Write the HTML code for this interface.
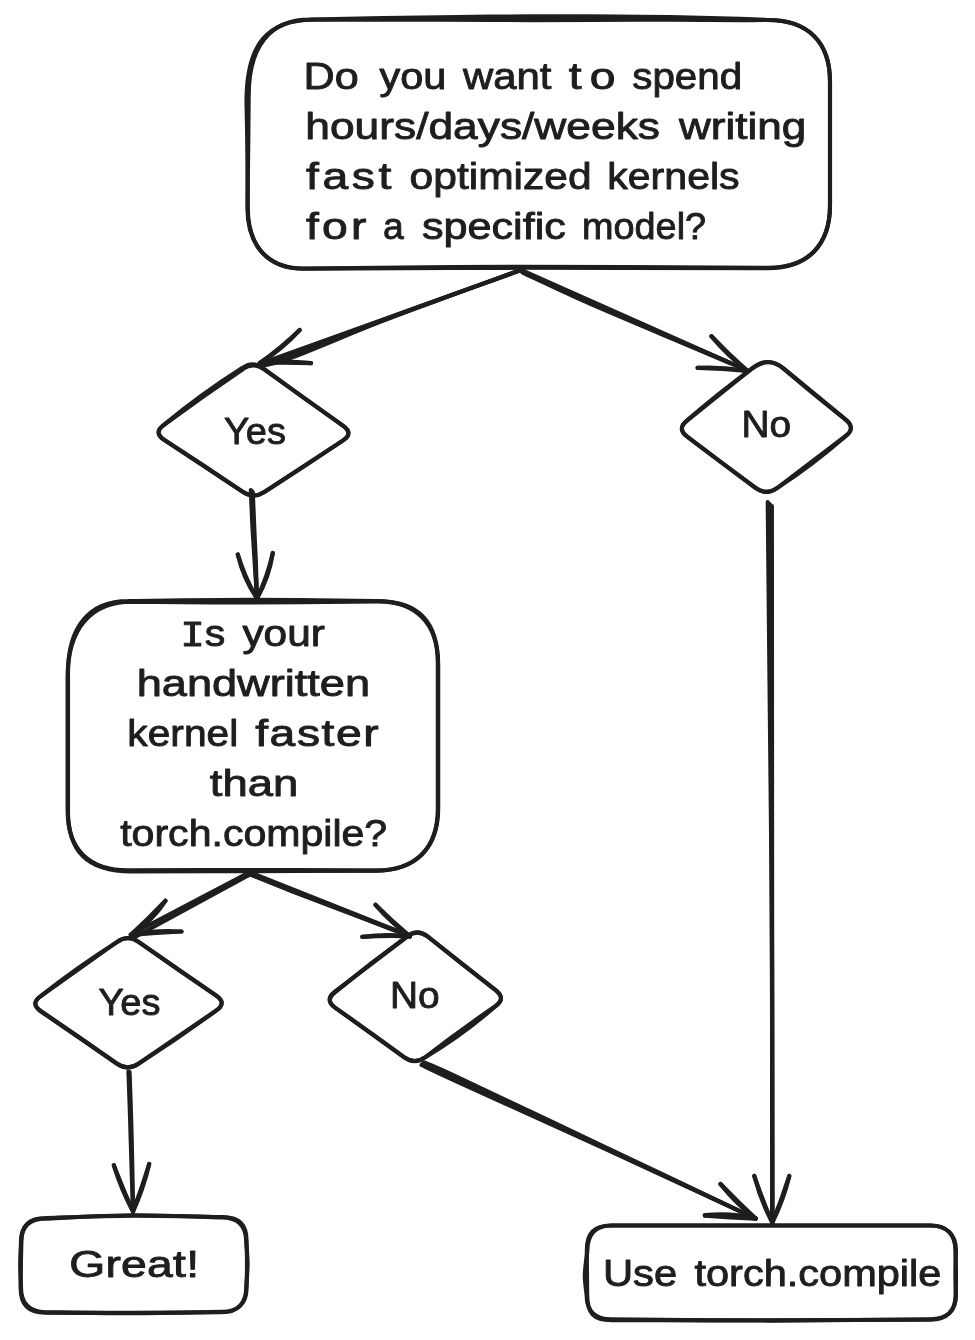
<!DOCTYPE html>
<html lang="en">
<head>
<meta charset="utf-8">
<title>Should you write custom kernels? flowchart</title>
<style>
html,body{margin:0;padding:0;background:#fff;}
body{width:975px;height:1340px;overflow:hidden;}
svg{display:block;}
svg path{fill:none;stroke:#1e1e1e;stroke-linecap:round;stroke-linejoin:round;}
svg text{font-family:"Liberation Sans",sans-serif;font-size:37px;fill:#1e1e1e;stroke:#1e1e1e;stroke-width:.9px;stroke-linejoin:round;white-space:pre;}
svg .m{font-family:"Liberation Mono",monospace;}
#labels{opacity:.999;}
</style>
</head>
<body>
<svg role="img" aria-label="Flowchart: should you write custom kernels or use torch.compile" width="975" height="1340" viewBox="0 0 975 1340">
<rect width="975" height="1340" fill="#fff"/>
<g id="shapes">
<g><!-- question box 1 -->
<path d="M309.6 19.5 C331.3 19.1 403.3 17.7 440 17.2 C476.7 16.7 496.7 16.4 530 16.3 C563.3 16.2 605 16.3 640 16.7 C675 17.1 718.7 18.1 740 18.7 C761.3 19.2 763.3 19.8 768 20 C807.7 20 830 41.8 830 81.5 L830 205.6 C830 245.3 807.7 267.8 768 267.8 C726.7 267.6 597.4 266.6 520 266.7 C442.6 266.8 339.7 268.2 303.6 268.5 C267.8 268.5 247.4 246 247.4 207.6 C247.6 196.3 248.1 158.7 248.3 140 C248.5 121.3 248.6 102.9 248.7 95.5 C248.7 46.9 269.9 19.5 309.6 19.5" stroke-width="4.1"/>
<path d="M313.6 19.7 C334.7 19.7 403.9 19.7 440 19.8 C476.1 19.9 496.7 20.1 530 20.1 C563.3 20.1 605 19.7 640 19.7 C675 19.7 718.7 20.1 740 20.1 C761.3 20.2 763.3 20 768 20 C807.7 20 830 41.8 830 81.5 L830 205.6 C830 245.3 807.7 268.2 768 268.2 C726.7 268.1 597.4 267.7 520 267.8 C442.6 267.9 339.7 268.6 303.6 268.8 C267.8 268.8 247.8 246 247.8 207.6 C247.7 196.3 247.4 157.7 247.2 140 C247 122.3 246.6 107.9 246.5 101.5 C246.5 44.1 267.4 19.7 313.6 19.7" stroke-width="4.1"/>
</g>
<g><!-- arrow q1 to yes -->
<path d="M521 270 L261 363.5" stroke-width="4.1"/>
<path d="M521 270 C507.5 274.9 463.5 290.8 440 299.4 C416.5 308 404.5 312.3 380 321.9 C355.5 331.5 312.3 349.9 293 357.2 C273.7 364.4 268.8 364 264 365.4" stroke-width="4.1"/>
<path d="M521 270 C513.8 272.6 492.2 280.4 477.8 285.6 C463.5 290.8 449.1 296 434.7 301.2 C420.3 306.4 406 311.7 391.6 317 C377.3 322.4 363 327.8 348.7 333.2 C334.4 338.7 320.3 344.4 305.9 349.6 C291.5 354.8 269.7 362 262.5 364.4" stroke-width="4.1"/>
<path d="M299.7 330 Q282.1 349.4 259.8 363" stroke-width="4.2"/>
<path d="M299.7 330 Q281 348 259.8 363" stroke-width="4.2"/>
<path d="M311 363.2 Q285.4 362 259.8 363" stroke-width="4.2"/>
<path d="M311 363.2 Q285.4 360.2 259.8 363" stroke-width="4.2"/>
</g>
<g><!-- arrow q1 to no -->
<path d="M521.5 270 L747.6 370.6" stroke-width="4.1"/>
<path d="M522.5 272.6 C533.1 277.5 563.1 291.8 586 302 C608.9 312.2 636 323.4 660 333.6 C684 343.8 718.3 358.1 730 363" stroke-width="4.1"/>
<path d="M522 271.3 C528 274 546 282.2 558 287.6 C570 293 581.9 298.5 594 303.8 C606 309.2 618.1 314.4 630.1 319.6 C642.2 324.9 654.3 330.2 666.3 335.4 C678.4 340.7 690.5 345.9 702.6 351.1 C714.6 356.3 732.8 364.2 738.8 366.8" stroke-width="4.1"/>
<path d="M711.4 336.2 Q728.7 354.4 747.6 371" stroke-width="4.2"/>
<path d="M711.4 336.2 Q727.5 355.7 747.6 371" stroke-width="4.2"/>
<path d="M697.6 367.8 Q722.8 366.5 747.6 371" stroke-width="4.2"/>
<path d="M697.6 367.8 Q722.7 368.3 747.6 371" stroke-width="4.2"/>
</g>
<g><!-- yes diamond 1 -->
<path d="M264 369.3 L343.3 425.8 Q353.9 433.3 343 440.4 L264.3 492 Q253.4 499.1 242.6 491.9 L164 439.9 Q153.1 432.7 163.7 425.2 Q202.6 396.2 242.8 369.2 Q253.4 361.7 264 369.3" stroke-width="4.1"/>
<path d="M263.1 368.1 Q302.8 397.5 343.2 425.9 Q353.8 433.5 342.9 440.6 Q304.1 466.9 264.5 491.9 Q253.6 499 242.8 491.8 Q203.8 465.2 164.2 439.7 Q153.4 432.5 163.9 424.9 Q201.2 394.1 242.1 368.1 Q252.6 360.5 263.1 368.1" stroke-width="4.1"/>
</g>
<g><!-- no diamond 1 -->
<path d="M783.5 368.4 L846.1 419.8 Q856.1 428.1 845.7 436 L777.7 487.7 Q766.5 496.2 755.3 487.8 L687 436.7 Q676.6 428.9 686.7 420.8 L752.4 368.2 Q768 355.7 783.5 368.4" stroke-width="4.1"/>
<path d="M783.5 368.6 Q814.3 394.8 845.9 420 Q855.9 428.3 845.5 436.2 Q813.5 464.2 777.8 487.6 Q766.6 496 755.4 487.6 Q720.9 462.5 687.2 436.5 Q676.8 428.7 686.9 420.6 Q718.5 393.1 752.4 368.4 Q768.1 355.9 783.5 368.6" stroke-width="4.1"/>
</g>
<g><!-- arrow yes to q2 -->
<path d="M250.8 490 C251.1 496.7 251.9 517.5 252.6 530 C253.3 542.5 254.1 553.7 254.8 565 C255.5 576.3 256.6 592.5 257 598" stroke-width="4.1"/>
<path d="M252.8 492 C253.1 498.3 253.9 517.8 254.4 530 C254.9 542.2 255.6 553.7 256 565 C256.4 576.3 256.8 592.5 257 598" stroke-width="4.1"/>
<path d="M251.8 491 C251.9 494 252.3 502.9 252.6 508.8 C252.8 514.8 253.1 520.7 253.4 526.7 C253.6 532.6 254 538.6 254.3 544.5 C254.6 550.5 254.9 556.4 255.3 562.3 C255.6 568.3 255.8 574.2 256.1 580.2 C256.4 586.1 256.9 595 257 598" stroke-width="4.1"/>
<path d="M237.8 554.5 Q244.9 577.6 257 598.5" stroke-width="4.2"/>
<path d="M237.8 554.5 Q243.3 578.3 257 598.5" stroke-width="4.2"/>
<path d="M272.8 553 Q269.2 577.2 257 598.5" stroke-width="4.2"/>
<path d="M272.8 553 Q267.5 576.6 257 598.5" stroke-width="4.2"/>
</g>
<g><!-- arrow no to answer -->
<path d="M767.7 502 C768 532.2 768.9 625.2 769.5 683 C770.1 740.8 770.8 796.2 771.2 849 C771.6 901.8 771.8 937.8 772 1000 C772.2 1062.2 772.2 1185 772.3 1222" stroke-width="4.1"/>
<path d="M771.9 506 C771.9 535.5 772 625.8 772 683 C772 740.2 772.1 796.2 772.1 849 C772.1 901.8 772.2 937.8 772.3 1000 C772.3 1062.2 772.4 1185 772.4 1222" stroke-width="4.1"/>
<path d="M769.8 504 C769.9 523.9 770.2 583.8 770.4 623.7 C770.6 663.6 770.9 703.4 771.1 743.3 C771.3 783.2 771.5 823.1 771.7 863 C771.9 902.9 772 942.8 772.1 982.7 C772.2 1022.6 772.2 1062.4 772.2 1102.3 C772.3 1142.2 772.3 1202.1 772.3 1222" stroke-width="4.1"/>
<path d="M754.3 1176 Q762.3 1199.6 772.3 1222.5" stroke-width="4.2"/>
<path d="M754.3 1176 Q760.6 1200.3 772.3 1222.5" stroke-width="4.2"/>
<path d="M789.3 1176 Q783.5 1200.2 772.3 1222.5" stroke-width="4.2"/>
<path d="M789.3 1176 Q781.8 1199.6 772.3 1222.5" stroke-width="4.2"/>
</g>
<g><!-- question box 2 -->
<path d="M128 601 C148.3 600.8 208.7 599.8 250 599.8 C291.3 599.8 354.8 600.8 375.8 601 C415.5 601 437.8 622.9 437.8 662.6 L437.8 808.8 C437.8 848.5 415.5 870.6 375.8 870.6 C354.8 870.5 291.3 870 250 870 C208.7 870 148.3 870.3 128 870.4 C89.6 870.4 68 849.9 68 812.8 L68 672.6 C68 626.5 89.6 601 128 601" stroke-width="4.1"/>
<path d="M131.6 601.8 C151.3 601.9 208.9 602.5 250 602.4 C291.1 602.3 356.8 601.6 378.2 601.4 C419 601.4 438.2 622.1 438.2 665.6 L438.2 808.2 C438.2 847.9 415.9 870.6 376.2 870.6 C355.2 870.7 290.8 871.1 250 871.2 C209.2 871.3 151.3 871.4 131.6 871.4 C86.8 871.4 67.6 851.6 67.6 808.2 L67.6 677.6 C67.6 629 90.6 601.8 131.6 601.8" stroke-width="4.1"/>
</g>
<g><!-- arrow q2 to yes -->
<path d="M249 872.5 L131.5 934.3" stroke-width="4.1"/>
<path d="M250 874.5 L135 937" stroke-width="4.1"/>
<path d="M165.5 900.8 Q151.9 921.7 130.8 934.8" stroke-width="4.2"/>
<path d="M165.5 900.8 Q148.8 918.5 130.8 934.8" stroke-width="4.2"/>
<path d="M181.5 931.5 Q156.1 932.8 130.8 934.8" stroke-width="4.2"/>
<path d="M181.5 931.5 Q155.9 929.6 130.8 934.8" stroke-width="4.2"/>
</g>
<g><!-- arrow q2 to no -->
<path d="M249 872 L410 936" stroke-width="4.1"/>
<path d="M250 874.5 C256.7 877.2 275 884.7 290 890.5 C305 896.3 322.5 902.8 340 909.5 C357.5 916.2 385.8 927 395 930.5" stroke-width="4.1"/>
<path d="M249.5 873.2 C253.7 874.9 266.5 880 274.9 883.4 C283.4 886.8 291.9 890.1 300.4 893.5 C308.9 896.8 317.4 900.1 325.9 903.4 C334.4 906.7 343 910 351.5 913.3 C360 916.7 368.5 920 377 923.3 C385.5 926.6 398.2 931.6 402.5 933.2" stroke-width="4.1"/>
<path d="M375.5 904.8 Q392 921.4 410 936.3" stroke-width="4.2"/>
<path d="M375.5 904.8 Q390.8 922.7 410 936.3" stroke-width="4.2"/>
<path d="M362.3 936.8 Q386.1 933.7 410 936.3" stroke-width="4.2"/>
<path d="M362.3 936.8 Q386.1 935.5 410 936.3" stroke-width="4.2"/>
</g>
<g><!-- yes diamond 2 -->
<path d="M138.4 941.7 L216.4 995.6 Q227.1 1003 216.3 1010.4 L138.4 1063.8 Q127.7 1071.2 117 1063.8 L40.6 1011.2 Q29.9 1003.8 40.5 996.3 L117.1 941.8 Q127.7 934.3 138.4 941.7" stroke-width="4.1"/>
<path d="M138.5 941.9 Q177 969.3 216.3 995.8 Q227 1003.2 216.2 1010.6 Q178.2 1038.3 138.5 1063.7 Q127.8 1071.1 117.1 1063.7 Q79.3 1036.9 40.8 1011 Q30.1 1003.6 40.7 996.1 Q77.5 967.1 117.2 942 Q127.8 934.5 138.5 941.9" stroke-width="4.1"/>
</g>
<g><!-- no diamond 2 -->
<path d="M427.9 936.7 L496 990.3 Q506.2 998.4 495.7 1006 Q459.6 1030.6 425.1 1057.4 Q414.6 1065 404.1 1057.4 L334.8 1007.3 Q324.3 999.7 334.6 991.8 L407.4 936.5 Q417.7 928.6 427.9 936.7" stroke-width="4.1"/>
<path d="M427.6 936.5 Q461.3 963.9 495.8 990.4 Q506 998.5 495.5 1006.2 Q462.7 1034.9 425.3 1057.2 Q414.8 1064.8 404.2 1057.2 Q370.1 1032.1 335.3 1007.9 Q324.7 1000.3 335 992.3 Q370.2 963.2 407.1 936.4 Q417.4 928.4 427.6 936.5" stroke-width="4.1"/>
</g>
<g><!-- arrow yes to great -->
<path d="M128.4 1071.5 C128.7 1079.6 129.6 1103.6 130.1 1120 C130.6 1136.4 131.1 1154.8 131.6 1170 C132.1 1185.2 132.8 1204.2 133 1211" stroke-width="4.1"/>
<path d="M129.6 1072 C129.9 1080 130.7 1103.7 131.2 1120 C131.7 1136.3 132.1 1154.8 132.4 1170 C132.7 1185.2 132.9 1204.2 133 1211" stroke-width="4.1"/>
<path d="M113.8 1165.2 Q122.8 1188.6 133 1211.5" stroke-width="4.2"/>
<path d="M113.8 1165.2 Q121.1 1189.3 133 1211.5" stroke-width="4.2"/>
<path d="M149.2 1164 Q143.5 1188.6 133 1211.5" stroke-width="4.2"/>
<path d="M149.2 1164 Q141.8 1188 133 1211.5" stroke-width="4.2"/>
</g>
<g><!-- arrow no to answer (diagonal) -->
<path d="M424 1062.5 C429.4 1064.8 426.6 1062.7 456.4 1076.6 C486.2 1090.5 553.1 1122.3 603 1146 C652.9 1169.7 730.1 1206.4 755.5 1218.5" stroke-width="4.1"/>
<path d="M421.5 1065 C427.3 1067.7 426.1 1067.6 456.4 1081.4 C486.6 1095.2 553.1 1125.2 603 1148 C652.9 1170.8 730.1 1206.8 755.5 1218.5" stroke-width="4.1"/>
<path d="M422.8 1063.8 C432 1068 459.8 1080.7 478.4 1089.2 C496.9 1097.7 515.4 1106.4 533.8 1114.9 C552.3 1123.5 570.9 1132.1 589.3 1140.7 C607.8 1149.3 626.3 1157.9 644.7 1166.6 C663.2 1175.2 681.7 1183.9 700.1 1192.5 C718.6 1201.2 746.3 1214.2 755.5 1218.5" stroke-width="4.1"/>
<path d="M720.5 1184 Q737.5 1201.8 755.6 1218.5" stroke-width="4.4"/>
<path d="M720.5 1184 Q735.8 1203.5 755.6 1218.5" stroke-width="4.4"/>
<path d="M705 1215.4 Q730.6 1212.6 755.6 1218.5" stroke-width="4.6"/>
<path d="M705 1215.4 Q730.3 1217.3 755.6 1218.5" stroke-width="4.6"/>
</g>
<g><!-- great box -->
<path d="M45.6 1218.6 C60.2 1218 103.6 1215.4 133 1215.2 C162.4 1215 207 1217 221.8 1217.4 C237.8 1217.4 246.2 1225.6 246.2 1241.6 C246.4 1245.3 247.6 1256.4 247.6 1264 C247.6 1271.6 246.4 1283.5 246.2 1287.4 C246.2 1303.4 237.8 1311.8 221.8 1311.8 C207 1312 162.4 1313.1 133 1313.2 C103.6 1313.3 60.2 1312.4 45.6 1312.2 C29.6 1312.2 21 1303.4 21 1287.4 C20.9 1283.5 20.2 1271.6 20.2 1264 C20.2 1256.4 20.9 1245.3 21 1241.6 C21 1225.6 29.6 1218.6 45.6 1218.6" stroke-width="4.1"/>
<path d="M45.6 1218 C60.2 1217.6 103.6 1216 133 1215.8 C162.4 1215.6 207 1216.8 221.8 1217 C239.3 1217 246.6 1224.1 246.6 1241.6 C246.7 1245.3 247 1256.4 247 1264 C247 1271.6 246.7 1283.5 246.6 1287.4 C246.6 1303.4 237.8 1312.2 221.8 1312.2 C207 1312.3 162.4 1312.7 133 1312.8 C103.6 1312.9 60.2 1312.8 45.6 1312.8 C28.1 1312.8 20.6 1304.9 20.6 1287.4 C20.7 1283.5 20.8 1271.6 20.9 1264 C21 1256.4 21.3 1245.3 21.4 1241.6 C21.4 1225.6 29.6 1218 45.6 1218" stroke-width="4.1"/>
</g>
<g><!-- use torch.compile box -->
<path d="M611.4 1225.5 L930.6 1225.5 C946.6 1225.5 955.4 1234.5 955.4 1250.5 C955.5 1254.6 956 1267.6 956 1275 C956 1282.4 955.7 1291.7 955.6 1295 C955.6 1311 946.6 1319.2 930.6 1319.2 C903.8 1319.4 823.2 1320.6 770 1320.6 C716.8 1320.6 637.8 1319.6 611.4 1319.4 C595.4 1319.4 586.6 1311 586.6 1295 C586.3 1291.7 584.7 1282.4 584.8 1275 C584.9 1267.6 587 1254.6 587.4 1250.5 C587.4 1234.5 595.4 1225.5 611.4 1225.5" stroke-width="4.1"/>
<path d="M611.4 1225.5 L930.6 1225.5 C946.6 1225.5 956 1234.5 956 1250.5 C955.9 1254.6 955.4 1267.6 955.4 1275 C955.4 1282.4 955.9 1291.7 956 1295 C956 1311 946.6 1319.8 930.6 1319.8 C903.8 1319.9 823.2 1320.1 770 1320.2 C716.8 1320.3 637.8 1320.2 611.4 1320.2 C593.4 1320.2 587.2 1313 587.2 1295 C587.2 1291.7 587.1 1282.4 587 1275 C586.9 1267.6 586.8 1254.6 586.8 1250.5 C586.8 1233 593.9 1225.5 611.4 1225.5" stroke-width="4.1"/>
</g>
</g>
<g id="labels">
<g><text transform="translate(303.5 88.5) scale(1.167 1)">Do</text> <text transform="translate(379.5 88.5) scale(1.120 1)">you</text> <text transform="translate(463 88.5) scale(1.133 1)">want</text> <text transform="translate(568.7 88.5) scale(1.250 1)" letter-spacing="6.54">to</text> <text transform="translate(632.3 88.5) scale(1.089 1)">spend</text></g>
<g><text transform="translate(305.3 138.5) scale(1.198 1)">hours/days/weeks</text> <text transform="translate(678.9 138.5) scale(1.191 1)">writing</text></g>
<g><text transform="translate(306 188.5) scale(1.250 1)" letter-spacing="2.88">fast</text> <text transform="translate(409.6 188.5) scale(1.150 1)">optimized</text> <text transform="translate(607.2 188.5) scale(1.111 1)">kernels</text></g>
<g><text transform="translate(306 238.5) scale(1.250 1)" letter-spacing="2.56">for</text> <text transform="translate(383.1 238.5) scale(1.007 1)">a</text> <text transform="translate(421.9 238.5) scale(1.167 1)">specific</text> <text transform="translate(582.1 238.5) scale(1.022 1)">model?</text></g>
<g><text transform="translate(224 444) scale(1.026 1)">Yes</text></g>
<g><text transform="translate(741.6 437) scale(1.049 1)">No</text></g>
<g><text transform="translate(180.2 646) scale(1.111 1)"><tspan class="m">I</tspan>s</text> <text transform="translate(242.4 646) scale(1.145 1)">your</text></g>
<g><text transform="translate(136.7 696) scale(1.220 1)">handwritten</text></g>
<g><text transform="translate(127.3 746) scale(1.102 1)">kernel</text> <text transform="translate(255.2 746) scale(1.250 1)" letter-spacing="1.26">faster</text></g>
<g><text transform="translate(209.8 796) scale(1.228 1)">than</text></g>
<g><text transform="translate(120.2 846) scale(1.110 1)">torch.compile?</text></g>
<g><text transform="translate(98.5 1014.5) scale(1.026 1)">Yes</text></g>
<g><text transform="translate(390.1 1007.5) scale(1.049 1)">No</text></g>
<g><text transform="translate(69.2 1277) scale(1.250 1)" letter-spacing="0.22">Great!</text></g>
<g><text transform="translate(602.9 1286) scale(1.131 1)">Use</text> <text transform="translate(694.5 1286) scale(1.122 1)">torch.compile</text></g>
</g>
</svg>
</body>
</html>
